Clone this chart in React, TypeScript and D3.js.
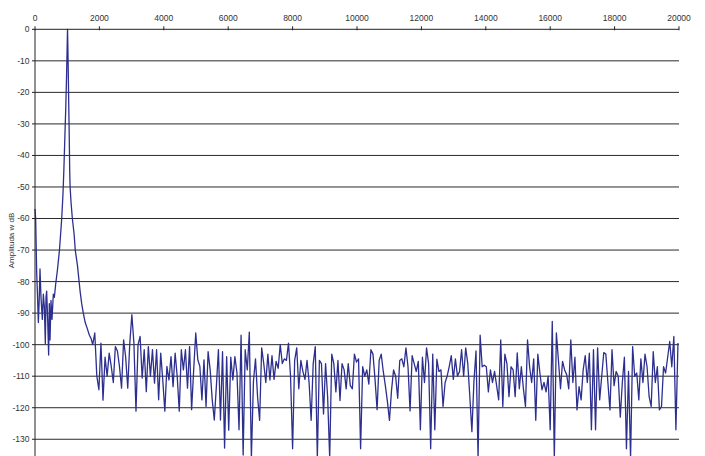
import React from "react";
import * as d3 from "d3";

// ---- data ----
const xTicks = [0, 2000, 4000, 6000, 8000, 10000, 12000, 14000, 16000, 18000, 20000];
const yTicks = [0, -10, -20, -30, -40, -50, -60, -70, -80, -90, -100, -110, -120, -130];

// low-frequency part and the 1 kHz peak (Hz, dB)
const lowHz = [0, 20, 52, 80, 104, 130, 155, 186, 228, 259, 290, 321, 342, 362, 393, 424, 445, 466, 497, 528, 569, 600, 621,
  640, 700, 760, 830, 870, 895, 925, 955, 980, 1000, 1010, 1020, 1035, 1050, 1065, 1078, 1090, 1120, 1160, 1215, 1250,
  1320, 1370, 1400, 1450, 1500, 1560, 1627, 1689, 1740];
const lowDb = [-57, -60, -77, -85, -93, -86, -76, -85, -92, -84, -88, -99.6, -85, -83, -92, -103.3, -87, -98.5, -86, -92, -84, -85, -83,
  -81, -76, -70, -60, -52, -45, -35, -25, -15, -5, 0, -5, -15, -25, -35, -45, -50, -55, -60, -65, -70,
  -75, -80, -83, -87, -90, -93, -95, -97, -98];

// noise floor, sampled every 64 Hz from 1792 Hz
const noiseStartHz = 1792;
const noiseStepHz = 64;
const noiseDb = [
  -100, -96.3, -110, -114.3, -99.5, -117.6, -104, -110, -102.7, -106.9,
  -112, -100.6, -102, -107, -113.8, -98.5, -104, -113.8, -99.5, -90.5,
  -99.5, -121.1, -100, -97.4, -110.6, -101.6, -114.9, -100.6, -110, -101.6,
  -112.2, -101.6, -117.5, -102.7, -111.2, -121.1, -106.9, -111.2, -103.8, -113.3,
  -102.7, -110, -121.1, -101.6, -108, -101.6, -113.8, -100.6, -120.6, -108,
  -96.3, -104.8, -106.9, -117.5, -104.8, -119.6, -102.2, -108, -117.5, -123.9,
  -113.3, -101.6, -123.9, -102.2, -132.8, -103.8, -127.1, -104, -111.2, -103.8,
  -109, -127, -97, -135, -101.6, -108, -96, -136, -111.6, -104.5,
  -116.5, -124, -101, -106, -112, -103, -111.2, -103.5, -111, -105.3,
  -107.5, -100, -106, -104.5, -105, -99.5, -110, -133, -105, -101,
  -114, -105, -108.5, -111, -105, -112, -124, -106, -100.6, -136,
  -105, -106, -122, -106, -116.6, -136, -103, -106, -115, -105,
  -117.7, -106, -108, -114, -106, -113, -114, -103, -105.5, -104.5,
  -133, -107, -110, -108, -112.5, -101.6, -103, -111, -120.6, -105,
  -103, -108.5, -113, -118, -124, -114.5, -108, -110, -117, -105,
  -104.5, -107, -101, -107, -121, -103.5, -106, -108.5, -105.3, -127,
  -104, -112, -101, -106, -133, -103, -127, -104.6, -108.5, -108,
  -119.6, -112, -110, -107, -103.5, -111, -104.5, -110, -108.5, -101.6,
  -110, -101, -106, -116.5, -127.6, -111.5, -102, -136, -97, -107,
  -106.5, -107, -115, -108, -112, -108.5, -113, -117.5, -98.5, -119.6,
  -103, -106, -116.5, -107, -108, -116.5, -102.6, -114, -107, -114,
  -119.6, -98.5, -107, -112, -104.5, -124, -103, -109, -114.3, -112,
  -115, -110, -127, -92.6, -136, -96.3, -105, -114, -105.3, -108,
  -109.5, -114, -98.5, -112, -104, -120.7, -113.3, -117.5, -108, -103.5,
  -112, -102.7, -127, -101.6, -127, -101, -117.5, -110, -102.5, -103,
  -112, -120.7, -101.6, -113, -108.5, -110, -123, -112, -104, -133,
  -108.5, -136, -100.6, -110, -109, -117.5, -104.5, -112, -103, -107,
  -116.5, -119.6, -102.2, -112, -107, -120.7, -119.6, -107, -109, -104,
  -99, -107, -97.4, -127, -99.5,
];

const yLabel = "Amplituda w dB";

// ---- layout ----
const W = 705;
const H = 456;
const left = 35;
const right = 679;
const top = 29.3;
const bottom = 470.8;

export default function App() {
  const x = d3.scaleLinear().domain([0, 20000]).range([left, right]);
  const y = d3.scaleLinear().domain([0, -140]).range([top, bottom]);

  const pts: [number, number][] = [];
  lowHz.forEach((f, i) => pts.push([f, lowDb[i]]));
  noiseDb.forEach((v, i) => pts.push([noiseStartHz + i * noiseStepHz, v]));

  const line = d3
    .line<[number, number]>()
    .x((d) => x(d[0]))
    .y((d) => y(d[1]));

  const font = "'Liberation Sans', Arial, sans-serif";

  return (
    <svg
      width={W}
      height={H}
      style={{ position: "absolute", left: 0, top: 0, background: "#fff" }}
      fontFamily={font}
    >
      <rect x={0} y={0} width={W} height={H} fill="#fff" />
      {/* gridlines */}
      {yTicks.slice(1).map((t) => (
        <line key={"g" + t} x1={left} x2={right} y1={y(t)} y2={y(t)} stroke="#2a2a2a" strokeWidth={1} />
      ))}
      {/* y ticks & labels */}
      {yTicks.map((t) => (
        <g key={"y" + t}>
          <line x1={left - 3} x2={left} y1={y(t)} y2={y(t)} stroke="#222" strokeWidth={1} />
          <text x={left - 5.5} y={y(t)} dy="0.35em" textAnchor="end" fontSize={8.5} fill="#333">
            {t}
          </text>
        </g>
      ))}
      {/* data */}
      <path d={line(pts) || ""} fill="none" stroke="#2d2f8f" strokeWidth={1.3} strokeLinejoin="round" />
      {/* top x axis */}
      <line x1={left} x2={right} y1={top} y2={top} stroke="#222" strokeWidth={1} />
      {xTicks.map((t) => (
        <g key={"x" + t}>
          <line x1={x(t)} x2={x(t)} y1={top - 3} y2={top + 1} stroke="#222" strokeWidth={1} />
          <text x={x(t)} y={21} textAnchor="middle" fontSize={8.5} fill="#333">
            {t}
          </text>
        </g>
      ))}
      {/* left axis */}
      <line x1={left} x2={left} y1={top} y2={H} stroke="#222" strokeWidth={1} />
      <text
        transform={`translate(11.5,240.5) rotate(-90)`}
        textAnchor="middle"
        dy="0.35em"
        fontSize={8}
        fill="#333"
      >
        {yLabel}
      </text>
    </svg>
  );
}
